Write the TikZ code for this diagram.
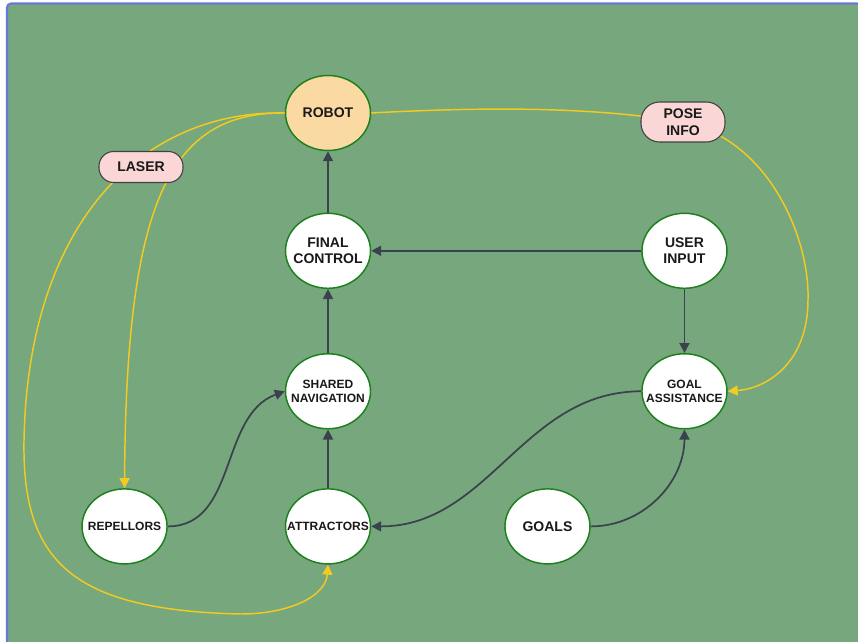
\documentclass[tikz,border=0pt]{standalone}
\usepackage{fontspec}
\setmainfont{Liberation Sans}
\usepackage{xcolor}
\usepackage{tikz}
\usetikzlibrary{shapes.geometric, positioning, arrows.meta}

\definecolor{paper}{RGB}{119,167,125}
\definecolor{frame}{RGB}{104,120,214}
\definecolor{rim}{RGB}{28,128,28}
\definecolor{robotfill}{RGB}{250,218,162}
\definecolor{pillfill}{RGB}{250,214,214}
\definecolor{wire}{RGB}{60,65,78}
\definecolor{feed}{RGB}{242,202,34}

\pgfdeclarelayer{paperlayer}
\pgfdeclarelayer{wirelayer}
\pgfsetlayers{paperlayer,wirelayer,main}

\begin{document}
\begin{tikzpicture}[x=0.75pt, y=-0.75pt, % one unit = one pixel, y going down
  >={Triangle[length=7.5pt,width=7.5pt]},
  blob/.style={ellipse, draw=rim, line width=1.1pt, fill=white,
    inner xsep=-10pt, inner ysep=0pt, % keep every ellipse the same size
    minimum width=63.75pt, minimum height=56.25pt, align=center,
    font=\bfseries\fontsize{10.5}{12.5}\selectfont, text=black!90},
  small/.style={font=\bfseries\fontsize{9}{11}\selectfont}, % long labels
  pill/.style={rectangle, draw=black!75, line width=0.8pt, fill=pillfill,
    inner sep=0pt, minimum width=63pt, align=center,
    font=\bfseries\fontsize{10.5}{12.5}\selectfont, text=black!90},
  link/.style={->, draw=wire, line width=1.3pt},
  sensor/.style={->, draw=feed, line width=1.1pt},
]
  \useasboundingbox (0,0) rectangle (858,642);
  \begin{pgfonlayer}{paperlayer}
    \clip (0,0) rectangle (858,642);
    \draw[frame, line width=1.6pt, fill=paper, rounded corners=3pt] (7,3.5) rectangle (880,670);
  \end{pgfonlayer}

  % nodes
  \node[blob, fill=robotfill] (robot) at (328,113) {ROBOT};
  \node[blob, below=46pt of robot] (final) {FINAL\\CONTROL};
  \node[blob, small, below=48pt of final] (shared) {SHARED\\NAVIGATION};
  \node[blob, small, below=44pt of shared] (attractors) {ATTRACTORS};
  \node[blob, right=202.5pt of final] (user) {USER\\INPUT};
  \node[blob, small, below=48pt of user] (assist) {GOAL\\ASSISTANCE};
  \node[blob, small, left=87.75pt of attractors] (repellors) {REPELLORS};
  \node[blob, right=99.75pt of attractors] (goals) {GOALS};
  \node[pill, minimum height=23.25pt, rounded corners=11pt] (laser) at (141,167) {LASER};
  \node[pill, minimum height=30pt, rounded corners=14pt] (pose) at (683,122) {POSE\\INFO};

  % dark arrows
  \begin{pgfonlayer}{wirelayer}
    \draw[link] (final) -- (robot);
    \draw[link] (shared) -- (final);
    \draw[link] (attractors) -- (shared);
    \draw[link] (user) -- (final);
    \draw[link] (user) -- (assist);
    \draw[link] (goals.east) to[out=0, in=-90] (assist.south);
    \draw[link] (assist.west) to[out=180, in=0] (attractors.east);
    \draw[link] (repellors.east) to[out=0, in=200] (shared.west);

    % sensor lines (they run under the pills)
    \draw[sensor] (robot.west) .. controls (170,112) and (126,200) .. (repellors.north);
    \draw[sensor] (robot.west) .. controls (140,110) and (28,225) .. (24,440)
      .. controls (22,560) and (70,610) .. (240,614)
      .. controls (292,614) and (326,595) .. (attractors.south);
    \draw[sensor] (robot.east) .. controls (500,106) and (600,108) .. (pose.center)
      .. controls (770,140) and (810,240) .. (808,300)
      .. controls (808,360) and (770,388) .. (assist.east);
  \end{pgfonlayer}
\end{tikzpicture}
\end{document}
